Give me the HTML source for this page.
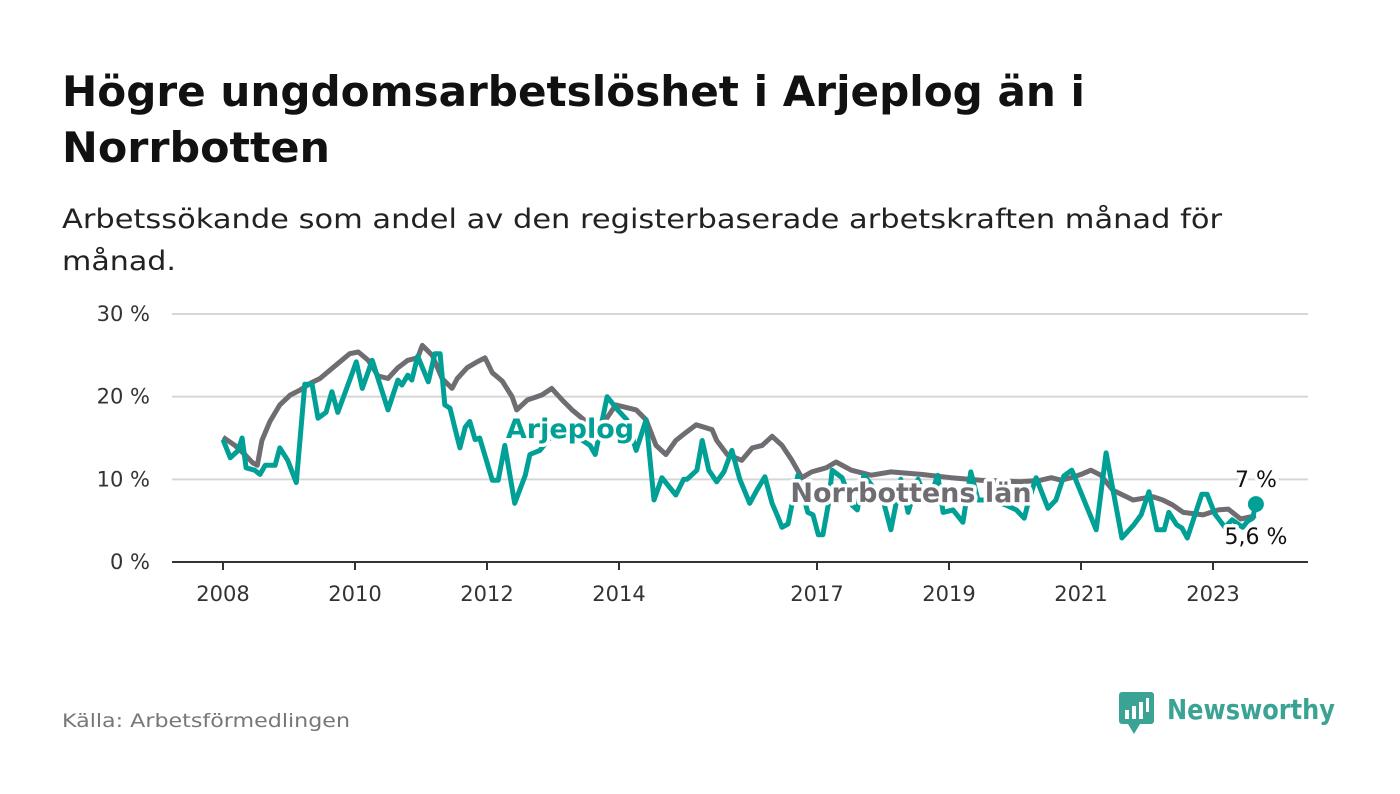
<!DOCTYPE html>
<html><head><meta charset="utf-8"><style>
body{margin:0;background:#fff;width:1400px;height:794px;overflow:hidden}
svg{display:block}
text{font-family:"DejaVu Sans","Liberation Sans",sans-serif}
</style></head><body>
<svg id="c" width="1400" height="794">
<text x="62" y="106" font-size="42" font-weight="bold" fill="#111" textLength="1023" lengthAdjust="spacingAndGlyphs">Högre ungdomsarbetslöshet i Arjeplog än i</text>
<text x="62" y="162" font-size="42" font-weight="bold" fill="#111" textLength="268" lengthAdjust="spacingAndGlyphs">Norrbotten</text>
<text x="62" y="228" font-size="27" fill="#222" textLength="1160" lengthAdjust="spacingAndGlyphs">Arbetssökande som andel av den registerbaserade arbetskraften månad för</text>
<text x="62" y="270" font-size="27" fill="#222" textLength="114" lengthAdjust="spacingAndGlyphs">månad.</text>
<g id="grid"></g><g id="lines"></g><g id="labels"></g>
<text x="62" y="727" font-size="19" fill="#777" textLength="288" lengthAdjust="spacingAndGlyphs">Källa: Arbetsförmedlingen</text>
<g>
<rect x="1119" y="692" width="35" height="32" rx="3" fill="#3aa394"/>
<path d="M1128 724 L1134 734 L1140 724Z" fill="#3aa394"/>
<rect x="1125" y="710" width="4" height="9" fill="#fff"/><rect x="1132" y="706" width="4" height="13" fill="#fff"/><rect x="1139" y="702" width="4" height="17" fill="#fff"/><rect x="1146" y="698" width="3" height="14" fill="#fff"/>
<text x="1167" y="719" font-size="28" font-weight="bold" fill="#3aa394" textLength="168" lengthAdjust="spacingAndGlyphs">Newsworthy</text>
</g>
</svg>
<script>
const yTicks=[0,10,20,30];
const xTickYears=[2008,2010,2012,2014,2017,2019,2021,2023];
const norrDates=[2008,2008.18,2008.33,2008.45,2008.52,2008.59,2008.71,2008.86,2009.02,2009.17,2009.32,2009.47,2009.62,2009.77,2009.92,2010.05,2010.2,2010.35,2010.5,2010.65,2010.8,2010.95,2011.02,2011.17,2011.32,2011.47,2011.55,2011.7,2011.85,2011.97,2012.08,2012.23,2012.38,2012.45,2012.61,2012.83,2012.98,2013.14,2013.29,2013.65,2013.8,2013.95,2014.26,2014.41,2014.56,2014.71,2014.86,2015.02,2015.17,2015.41,2015.48,2015.64,2015.86,2016.02,2016.17,2016.32,2016.47,2016.62,2016.77,2016.92,2017.14,2017.29,2017.52,2017.82,2018.12,2018.58,2019.03,2019.48,2020.09,2020.39,2020.55,2020.7,2020.85,2021.0,2021.15,2021.3,2021.48,2021.79,2021.94,2022.09,2022.24,2022.39,2022.55,2022.85,2023.08,2023.23,2023.42,2023.65];
const norrVals=[15.1,14.1,13,12,11.7,14.7,17,19,20.2,20.8,21.6,22.2,23.2,24.2,25.2,25.4,24.4,22.5,22.2,23.5,24.4,24.7,26.2,25,22.2,21,22.2,23.5,24.2,24.7,22.9,21.9,20,18.4,19.6,20.2,21,19.6,18.4,16,17.2,19,18.4,17.2,14.1,13,14.7,15.7,16.6,16,14.7,13,12.3,13.8,14.1,15.2,14.1,12.3,10.2,10.9,11.4,12.1,11.1,10.5,10.9,10.6,10.2,9.9,9.7,9.9,10.2,9.9,10.2,10.6,11.1,10.5,8.7,7.5,7.7,7.9,7.5,6.9,6,5.7,6.3,6.4,5.2,5.6];
const arjDates=[2008,2008.11,2008.23,2008.29,2008.35,2008.48,2008.56,2008.64,2008.79,2008.86,2008.98,2009.11,2009.24,2009.35,2009.44,2009.56,2009.65,2009.74,2009.92,2010.02,2010.11,2010.26,2010.5,2010.65,2010.71,2010.8,2010.86,2010.95,2011.11,2011.21,2011.29,2011.36,2011.44,2011.52,2011.59,2011.67,2011.74,2011.82,2011.89,2012.08,2012.17,2012.27,2012.42,2012.58,2012.65,2012.8,2013.0,2013.3,2013.56,2013.64,2013.82,2013.98,2014.12,2014.26,2014.41,2014.53,2014.65,2014.86,2014.98,2015.03,2015.18,2015.26,2015.36,2015.48,2015.59,2015.71,2015.83,2015.98,2016.09,2016.21,2016.32,2016.41,2016.47,2016.56,2016.71,2016.86,2016.94,2017.02,2017.09,2017.17,2017.23,2017.38,2017.53,2017.61,2017.71,2018.0,2018.12,2018.27,2018.38,2018.53,2018.68,2018.83,2018.91,2019.06,2019.21,2019.33,2019.44,2019.65,2019.86,2020.02,2020.14,2020.21,2020.32,2020.5,2020.62,2020.74,2020.86,2021.23,2021.38,2021.62,2021.8,2021.91,2022.03,2022.15,2022.26,2022.33,2022.45,2022.53,2022.61,2022.83,2022.91,2023.03,2023.18,2023.29,2023.45,2023.52,2023.6,2023.65];
const arjVals=[14.8,12.6,13.5,15,11.4,11.1,10.6,11.7,11.7,13.8,12.3,9.6,21.5,21.5,17.4,18.1,20.6,18.1,22,24.2,21,24.4,18.4,22,21.4,22.6,22,24.9,21.8,25.2,25.2,19,18.6,16,13.8,16.3,17,14.8,15,9.9,9.9,14.1,7.1,10.5,13,13.5,15.5,15.5,14.1,13,20,18.4,17.2,13.5,17.2,7.5,10.2,8.1,10,10,11.1,14.7,11.1,9.7,10.9,13.5,10,7.1,8.7,10.3,7.1,5.4,4.2,4.6,10.5,6,5.7,3.3,3.3,6.9,11.1,10.2,6.9,6.3,10.5,7.5,3.9,10,6,10,7.1,10.5,6,6.3,4.8,10.9,7.5,7.5,6.9,6.3,5.3,7.5,10.2,6.5,7.5,10.4,11.1,3.9,13.2,2.9,4.5,5.7,8.5,3.9,3.9,6,4.5,4.1,2.9,8.2,8.2,5.8,4.2,5.1,4.2,4.9,5.3,7];
const NS='http://www.w3.org/2000/svg';
const X=y=>223+(y-2008)*66, Y=v=>562-v*8.267;
function mk(t,a,p){const e=document.createElementNS(NS,t);for(const k in a)e.setAttribute(k,a[k]);p.appendChild(e);return e;}
const g=document.getElementById('grid'),L=document.getElementById('lines'),lb=document.getElementById('labels');
yTicks.forEach(v=>{
 const ln=mk('line',{x1:172,x2:1308,y1:Y(v),y2:Y(v),stroke:v?'#d6d6d6':'#333','stroke-width':2},g);
 
 
 const t=mk('text',{x:150,y:Y(v)+7,'font-size':21,fill:'#333','text-anchor':'end'},g);t.textContent=v+' %';
 
 
});
xTickYears.forEach(yr=>{
 mk('line',{x1:X(yr),x2:X(yr),y1:562,y2:570,stroke:'#333','stroke-width':2},g);
 const t=mk('text',{x:X(yr),y:601,'font-size':21,fill:'#333','text-anchor':'middle'},g);t.textContent=yr;
 
 
});
function path(d,v){return d.map((x,i)=>(i?'L':'M')+X(x).toFixed(1)+' '+Y(v[i]).toFixed(1)).join('');}
const pn=mk('path',{d:path(norrDates,norrVals),fill:'none',stroke:'#6f6d72','stroke-width':5,'stroke-linejoin':'round'},L);


const pa=mk('path',{d:path(arjDates,arjVals),fill:'none',stroke:'#00a096','stroke-width':5,'stroke-linejoin':'round'},L);


const ld=mk('circle',{cx:X(arjDates[arjDates.length-1]),cy:Y(arjVals[arjVals.length-1]),r:8,fill:'#00a096'},L);


function lab(x,y,s,col,name,sz,bold){
 const t=mk('text',{x:x,y:y,'font-size':sz,'font-weight':bold?'bold':'normal',fill:col,'text-anchor':'middle',stroke:'#fff','stroke-width':7,'paint-order':'stroke','stroke-linejoin':'round'},lb);t.textContent=s;
 
 
}
lab(570,438,'Arjeplog','#00a096','arjeplog-label',27,true);
lab(911,502,'Norrbottens län','#6f6d72','norrbotten-label',27,true);
lab(1256,487,'7 %','#111','arjeplog-end-value',22,false);
lab(1256,544,'5,6 %','#111','norrbotten-end-value',22,false);
</script>
</body></html>
